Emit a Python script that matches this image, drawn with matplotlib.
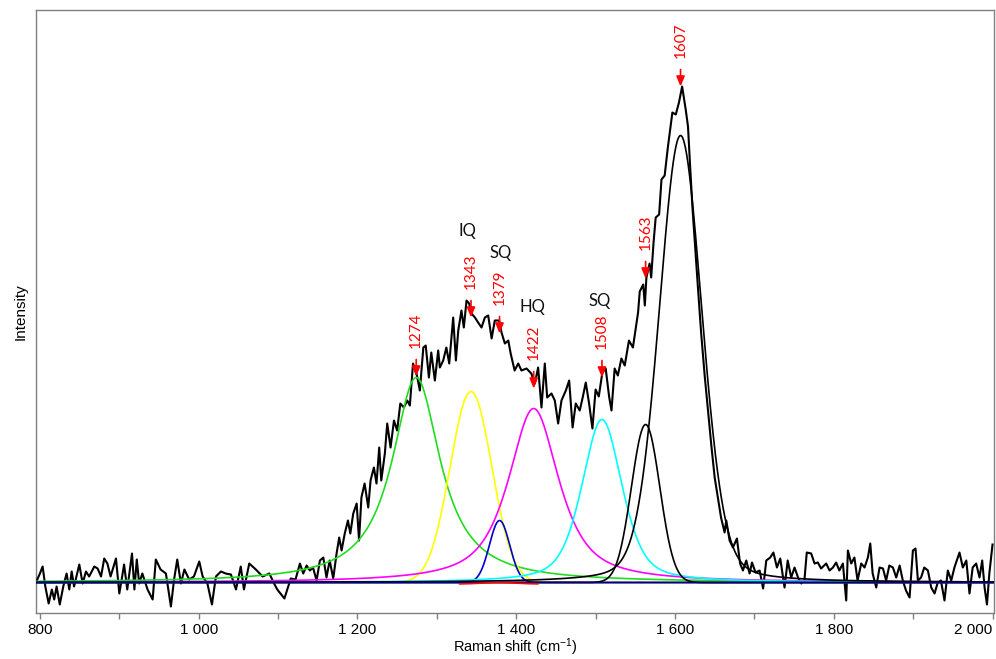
import numpy as np
import matplotlib
matplotlib.use('Agg')
import matplotlib.pyplot as plt

plt.rcParams['font.family'] = ['Liberation Sans', 'DejaVu Sans']
plt.rcParams['mathtext.fontset'] = 'custom'
plt.rcParams['mathtext.rm'] = 'Liberation Sans'
plt.rcParams['mathtext.it'] = 'Liberation Sans'

spec_shift = [
    795, 800, 803.4, 806.8, 811, 815, 818, 821, 825, 829.4, 833.6, 837, 840, 843, 846, 849.6,
    853.8, 858, 862, 868.5, 872.7, 877, 881, 885, 889, 895.8, 900, 903, 906, 910, 916, 919,
    922, 925, 929, 935.6, 942, 946, 952, 958.7, 965, 969, 973, 977.6, 982, 988, 994, 1000.7,
    1005, 1011, 1016.7, 1021.7, 1028, 1034, 1040.6, 1047, 1053, 1057, 1063.7, 1072, 1080.5,
    1089, 1095, 1099, 1108, 1116, 1122,
    1127.5, 1131.7, 1136, 1140, 1144, 1148.5, 1152.7, 1157, 1161, 1165, 1169.5, 1173.7, 1177,
    1180, 1184, 1188, 1191, 1194.7, 1199, 1202, 1205, 1209, 1213.6, 1216.5, 1220.7, 1224,
    1227.4, 1230, 1234.5, 1237.5, 1241.7, 1246, 1250, 1254, 1258.5, 1262.7, 1266, 1270,
    1274.4, 1278.6, 1283, 1286, 1290, 1293, 1297.5, 1301.7,
    1303.8, 1308, 1312, 1315.6, 1320.6, 1324, 1327, 1331, 1334, 1337.4, 1340.7, 1343.7, 1348,
    1352, 1356.3, 1360.5, 1364.7, 1369, 1373, 1378.5, 1381.5, 1385.7, 1390, 1393, 1398,
    1402.5, 1406.6, 1413, 1419, 1423.4, 1427.6, 1431.8, 1436, 1439, 1444.4, 1448.6, 1452.8,
    1457, 1462.5, 1466.7, 1471, 1475, 1480,
    1484, 1487.6, 1491.8, 1496, 1500, 1504, 1508.5, 1512.7, 1517, 1520, 1524, 1528, 1532.5,
    1536.7, 1542, 1547, 1553.5, 1555.6, 1560, 1562, 1564, 1568, 1570, 1573, 1575.7, 1580,
    1583, 1587, 1591, 1596.7, 1601, 1605, 1609, 1613.5, 1616.4, 1619, 1622, 1625, 1629, 1633,
    1637.4, 1641.6, 1645.8, 1650,
    1654, 1658, 1662.5, 1664.6, 1668.8, 1673, 1678, 1682, 1685.6, 1689.8, 1694, 1697, 1701.5,
    1706.6, 1711, 1715, 1720, 1724, 1728.4, 1732.6, 1738, 1742, 1746.4, 1750.6, 1755, 1759,
    1763, 1766, 1771.6, 1775.8, 1780, 1784, 1790.5, 1794.7, 1799, 1803, 1807, 1811.5, 1815.7,
    1817.8, 1822, 1826, 1830, 1834.6, 1838.8, 1843, 1846, 1849, 1853.5, 1857.7, 1862, 1866,
    1870, 1874.5, 1878.7, 1883, 1887, 1891, 1895.5, 1899.7, 1903, 1906, 1910, 1914, 1918.6,
    1922.8, 1927, 1931, 1935, 1939.5, 1943.7, 1948, 1952, 1958.4, 1962.6, 1967, 1971, 1975,
    1979.4, 1983.6, 1987, 1990, 1993, 1996, 2000,
]
spec_int = [
    0, 9, 16, -4, -21, -7, -17, -4, -22, -4, 9, -7, 11, -4, 6, 18,
    -1, 11, 6, 16, 14, 6, 24, 19, 6, 24, -11, 3, 18, -7, 29, -7,
    23, -1, 9, -7, -17, 23, 13, 9, -24, 3, 23, -1, 13, 3, 6, 21,
    6, -1, -22, 6, 11, 9, 8, -7, 16, -7, 19, 13, 6,
    9, -1, -7, -16, 4, 3,
    19, 9, 17, 12, 15, 2, 22, 25, 5, 22, 4, 29, 45,
    32, 49, 62, 49, 69, 79, 42, 85, 99, 75, 102, 115, 99,
    135, 102, 129, 159, 135, 162, 152, 179, 175, 182, 177, 219,
    209, 192, 235, 237, 205, 230, 202, 232,
    215, 222, 235, 219, 265, 222, 252, 272, 255, 282, 279, 269, 265,
    260, 255, 265, 267, 244, 262, 262, 250, 239, 242, 229, 212,
    219, 212, 214, 209, 199, 215, 175, 219, 185, 189, 182, 159,
    182, 192, 202, 155, 179, 172,
    186, 200, 179, 154, 193, 186, 210, 214, 186, 172, 214, 207, 224,
    217, 242, 235, 270, 291, 298, 277, 305, 319, 305, 340, 365, 368,
    403, 407, 435, 470, 468, 480, 496, 473, 456, 417, 375, 340, 294, 249,
    207, 172, 137, 105,
    85, 65, 50, 62, 42, 35, 44, 19, 12, 22, 9, 20, 10,
    12, -6, 22, 25, 30, 15, 24, -5, 22, 5, 15, 5, -1,
    2, 30, 29, 19, 20, 14, 19, 12, 15, 20, 12, 19, -18,
    32, 19, 25, 2, 19, 15, 25, 39, 9, -5, 15, 14, 2,
    17, 15, 5, 17, 2, -8, -15, 32, 34, 2, 5, 15, 12,
    -5, -11, 0, 2, -18, 12, 2, 15, 30, 15, 22, -11, 15,
    19, 5, 22, -5, -22, 9, 38,
]

# fitted bands: centre, height, half width, lorentzian fraction, colour
band_center = [1274, 1343, 1379, 1422, 1508, 1563, 1607, 1378]
band_height = [205, 191, 62, 174, 163, 158, 447, 1.5]
band_hwhm = [37, 31, 15, 38, 30, 21, 32, 25]
band_eta = [1.0, 0.0, 0.0, 0.8, 0.5, 0.0, 0.2, 0.0]
band_color = ['#20dd20', '#ffff00', '#0000cc', '#ff00ff', '#00ffff', 'black', 'black', 'red']

# marked peaks
peak_pos = [1274, 1343, 1379, 1422, 1508, 1563, 1607]
peak_tip = [206, 265, 249, 194, 205, 304, 496]

# structure labels
struct_text = ['IQ', 'SQ', 'HQ', 'SQ']
struct_x = [1339, 1380, 1421, 1505]
struct_y = [352, 330, 276, 282]

tick_values = [800, 1000, 1200, 1400, 1600, 1800, 2000]
tick_labels = ['800', '1 000', '1 200', '1 400', '1 600', '1 800', '2 000']
minor_values = [900, 1100, 1300, 1500, 1700, 1900]

fig = plt.figure(figsize=(9.96, 6.59), dpi=100)
ax = fig.add_axes([0.0361, 0.0698, 0.962, 0.915])

xx = np.linspace(795, 2002, 1500)
ax.plot(spec_shift, spec_int, color='black', lw=1.5, zorder=3)

for c, h, w, eta, col in zip(band_center, band_height, band_hwhm, band_eta, band_color):
    u = ((xx - c) / w) ** 2
    yy = h * (eta / (1 + u) + (1 - eta) * np.exp(-np.log(2) * u))
    if col == 'red':
        yy = np.where(yy > 0.1, yy - 1.5, np.nan)
        ax.plot(xx, yy, color=col, lw=1.2, zorder=6)
    else:
        ax.plot(xx, yy, color=col, lw=1.2, zorder=4)

# baseline
ax.plot(xx, np.zeros_like(xx), color='#000080', lw=1.2, zorder=5)

for p, t in zip(peak_pos, peak_tip):
    ax.annotate('', xy=(p, t), xytext=(p, t + 17),
                arrowprops=dict(arrowstyle='-|>,head_width=0.25,head_length=0.6',
                                color='red', lw=1.2, shrinkA=0, shrinkB=0),
                zorder=7)
    ax.text(p, t + 29, str(p), color='red', rotation=90, ha='center', va='bottom',
            fontsize=11, family=['Lato', 'DejaVu Sans'], zorder=7)

for s, x, y in zip(struct_text, struct_x, struct_y):
    ax.text(x, y, s, ha='center', va='center', fontsize=12,
            family=['Lato', 'DejaVu Sans'], color='#111111')

ax.set_xlim(795, 2002)
ax.set_ylim(-30.5, 572.5)
ax.set_yticks([])
ax.set_xticks(tick_values)
ax.set_xticklabels(tick_labels)
ax.set_xticks(minor_values, minor=True)
ax.tick_params(axis='x', which='both', direction='out', length=4, width=1,
               color='#808080', labelsize=11, pad=3)
ax.get_xticklabels()[-1].set_horizontalalignment('right')
for sp in ax.spines.values():
    sp.set_color('#808080')
    sp.set_linewidth(1)

ax.set_xlabel('Raman shift (cm$^{-1}$)', fontsize=10.5, labelpad=0)
ax.set_ylabel('Intensity', fontsize=11, labelpad=6)

fig.savefig('out.png', dpi=100)
